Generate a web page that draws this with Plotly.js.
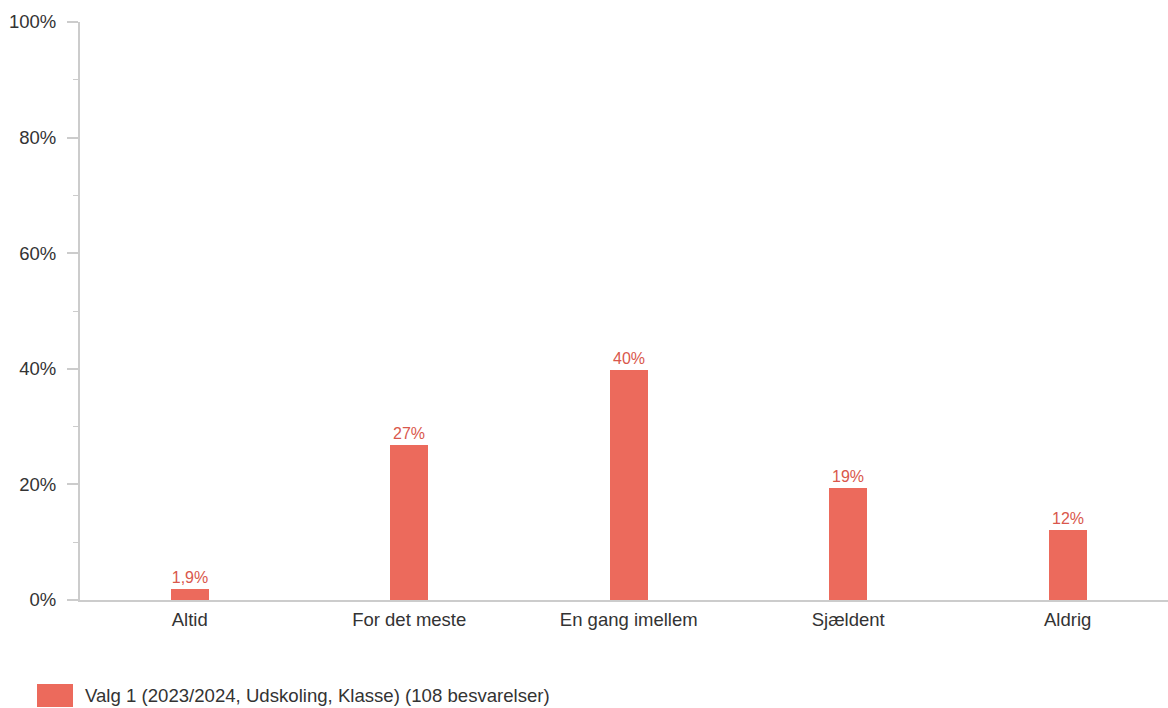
<!DOCTYPE html>
<html>
<head>
<meta charset="utf-8">
<script src="https://cdn.plot.ly/plotly-3.0.1.min.js"></script>
<style>
html,body{margin:0;padding:0;background:#fff;}
#chart{width:1168px;height:708px;}
</style>
</head>
<body>
<div id="chart"></div>
<script>
const categories = ["Altid", "For det meste", "En gang imellem", "Sjældent", "Aldrig"];
const counts = [2, 29, 43, 21, 13];
const totalResponses = 108;
const percentValues = [1.85, 26.85, 39.81, 19.44, 12.04];
const seriesName = "Valg 1 (2023/2024, Udskoling, Klasse) (108 besvarelser)";
const yTickVals = [0, 20, 40, 60, 80, 100];
const yTickText = ["0%", "20%", "40%", "60%", "80%", "100%"];

const barColor = "#ec6a5c";
const labelColor = "#d9574c";
const axisColor = "#cccccc";
const textColor = "#333333";
const fontFamily = "Liberation Sans, Arial, sans-serif";

const trace = {
  type: "bar",
  x: categories,
  y: percentValues,
  name: seriesName,
  marker: {color: barColor},
  width: 0.173,
  texttemplate: "%{y:.2r}%",
  textposition: "outside",
  cliponaxis: false,
  textfont: {color: labelColor, size: 16, family: fontFamily},
  hoverinfo: "x+y",
  showlegend: false
};

const layout = {
  width: 1168,
  height: 708,
  margin: {l: 80, r: 0, t: 22, b: 108, pad: 0},
  paper_bgcolor: "#ffffff",
  plot_bgcolor: "#ffffff",
  separators: ",.",
  font: {family: fontFamily, color: textColor, size: 18},
  bargap: 0,
  xaxis: {
    type: "category",
    range: [-0.5, 4.457],
    showgrid: false,
    showline: true,
    linecolor: axisColor,
    linewidth: 2,
    ticks: "",
    tickfont: {size: 18.5, color: textColor},
    ticklabelstandoff: 2,
    zeroline: false,
    fixedrange: true
  },
  yaxis: {
    range: [0, 100],
    tickmode: "array",
    tickvals: yTickVals,
    ticktext: yTickText,
    showgrid: false,
    zeroline: false,
    showline: true,
    linecolor: axisColor,
    linewidth: 2,
    ticks: "outside",
    ticklen: 11,
    tickwidth: 2,
    tickcolor: axisColor,
    tickfont: {size: 18.5, color: textColor},
    ticklabelstandoff: 7,
    minor: {dtick: 10, ticks: "outside", ticklen: 5, tickwidth: 1, tickcolor: axisColor},
    fixedrange: true
  },
  shapes: [{
    type: "rect",
    xref: "paper", yref: "paper",
    x0: (37 - 80) / 1088, x1: (73 - 80) / 1088,
    y0: (600 - 684) / 578, y1: (600 - 707) / 578,
    fillcolor: barColor,
    line: {width: 0}
  }],
  annotations: [{
    xref: "paper", yref: "paper",
    x: (83 - 80) / 1088, y: (600 - 695.5) / 578,
    xanchor: "left", yanchor: "middle",
    text: seriesName,
    showarrow: false,
    font: {size: 18.6, color: textColor, family: fontFamily}
  }]
};

Plotly.newPlot("chart", [trace], layout, {displayModeBar: false});
</script>
</body>
</html>
